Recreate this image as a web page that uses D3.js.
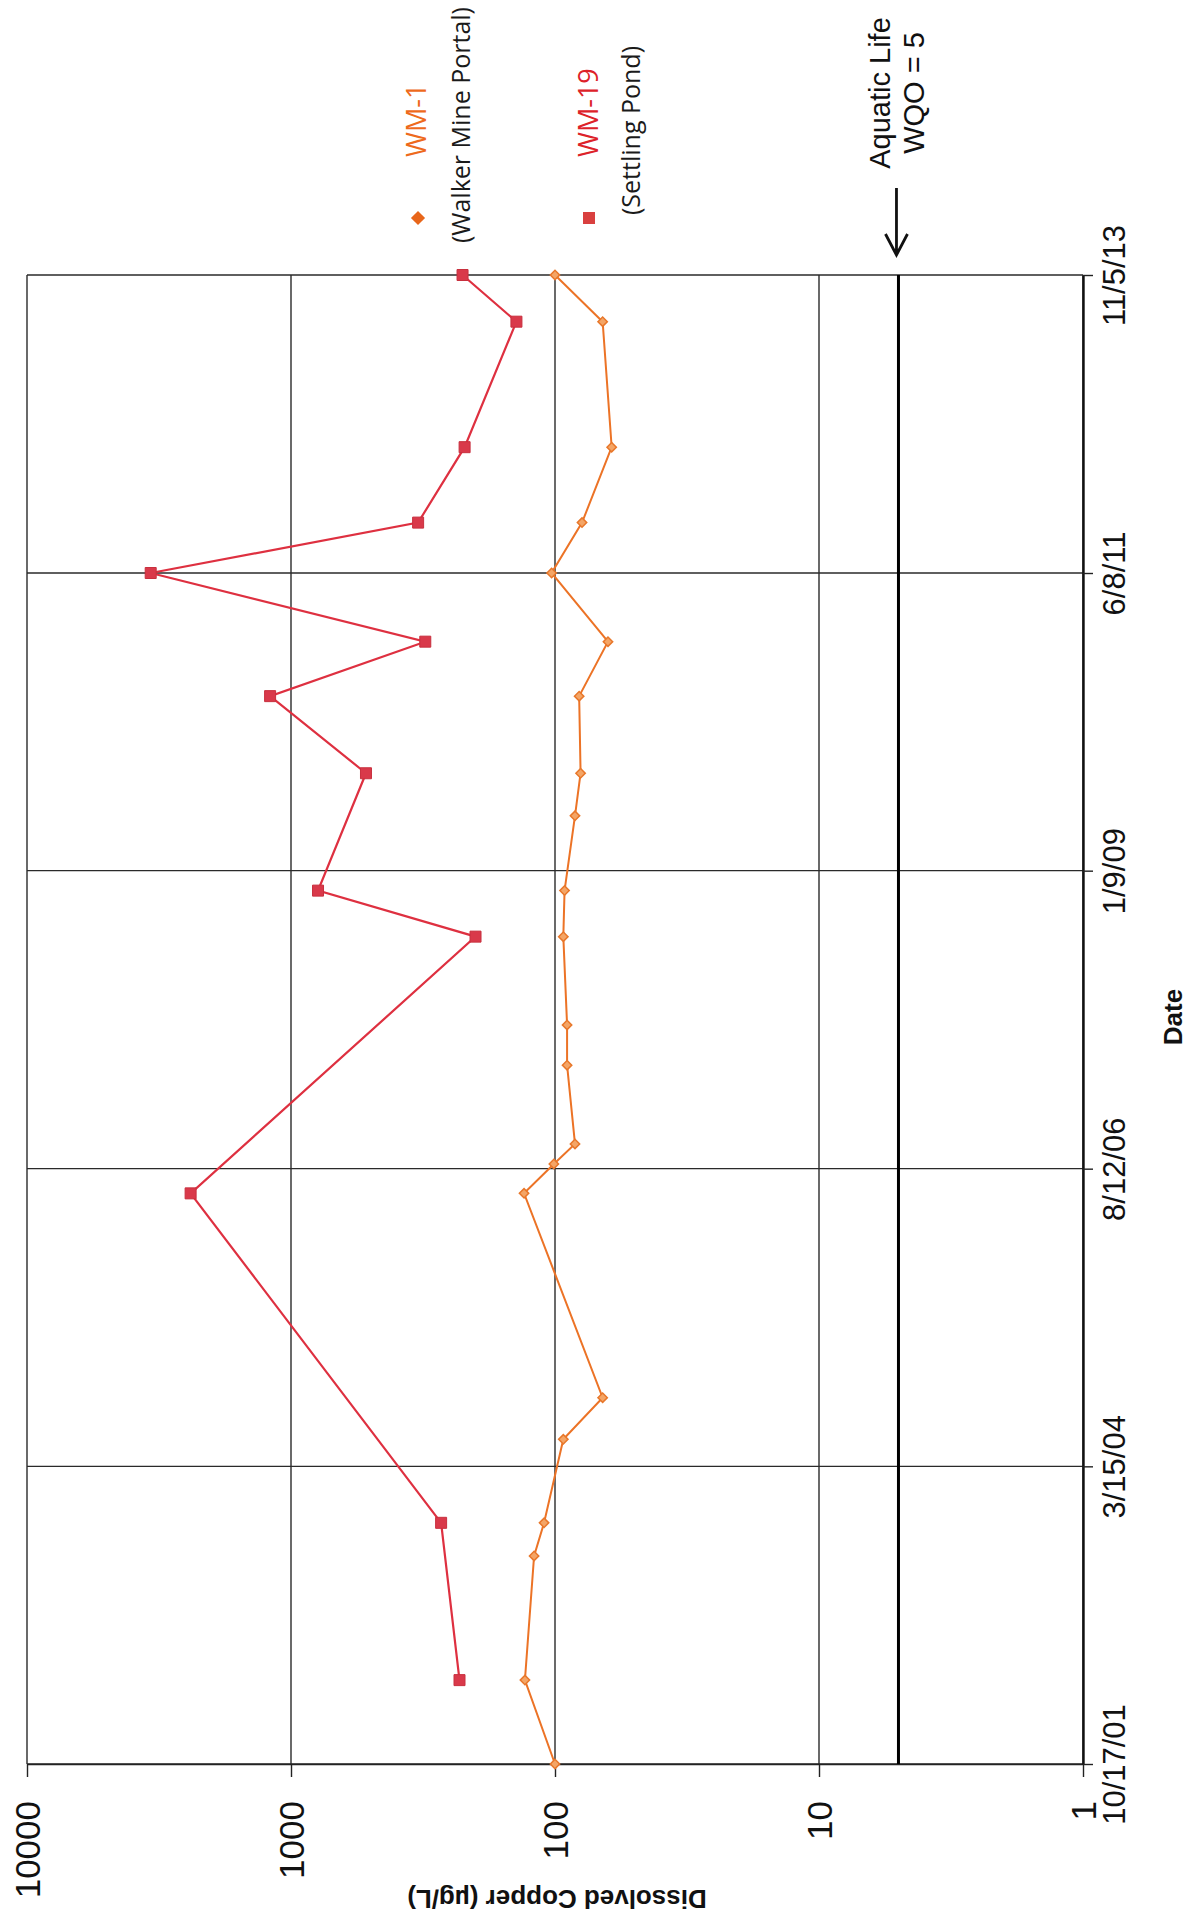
<!DOCTYPE html>
<html>
<head>
<meta charset="utf-8">
<script src="https://cdn.jsdelivr.net/npm/d3@7/dist/d3.min.js"></script>
<style>
  html, body { margin: 0; padding: 0; background: #fff; }
  svg { display: block; }
</style>
</head>
<body>
<svg id="chart" width="1201" height="1920"></svg>
<script>
// ---- data ----
const wm1Dates = ["2001-10-17","2002-06-22","2003-06-24","2003-09-30","2004-06-03","2004-10-04","2006-05-31","2006-08-26","2006-10-24","2007-06-14","2007-10-11","2008-06-28","2008-11-11","2009-06-20","2009-10-24","2010-06-09","2010-11-17","2011-06-08","2011-11-04","2012-06-14","2013-06-20","2013-11-05"];
const wm1Values = [100,130,120,110,93,66,131,101,84,90,90,93,92,84,80,81,63,103,79,61,66,100];

const wm19Dates = ["2002-06-22","2003-09-30","2006-05-31","2008-06-28","2008-11-11","2009-10-24","2010-06-09","2010-11-17","2011-06-08","2011-11-04","2012-06-14","2013-06-20","2013-11-05"];
const wm19Values = [230,270,2400,200,790,520,1200,310,3400,330,220,140,224];

const dateTicks = ["2001-10-17","2004-03-15","2006-08-12","2009-01-09","2011-06-08","2013-11-05"];
const valueTicks = [1,10,100,1000,10000];
const wqoValue = 5;

const seriesNames = ["WM-1","WM-19"];
const seriesSub = ["(Walker Mine Portal)","(Settling Pond)"];

(function () {
// ---- setup ----
const parse = d3.timeParse("%Y-%m-%d");
const svg = d3.select("#chart");
const SANS = "'Liberation Sans', Arial, sans-serif";
const LEG = "'Open Sans', 'Liberation Sans', sans-serif";

const pLeft = 27, pRight = 1083, pTop = 275, pBottom = 1764;

// value axis runs horizontally (rotated chart): 10000 at left, 1 at right
const x = d3.scaleLog().domain([1, 10000]).range([pRight, pLeft]);
// date axis runs vertically: oldest at bottom
const y = d3.scaleTime().domain([parse("2001-10-17"), parse("2013-11-05")]).range([pBottom, pTop]);

// ---- gridlines ----
const grid = svg.append("g");
grid.selectAll("line.v").data(valueTicks).join("line")
  .attr("class", "v")
  .attr("x1", d => x(d)).attr("x2", d => x(d))
  .attr("y1", pTop).attr("y2", pBottom)
  .attr("stroke", "#2a2a2a").attr("stroke-width", 1.4);
grid.selectAll("line.h").data(dateTicks).join("line")
  .attr("class", "h")
  .attr("x1", pLeft).attr("x2", pRight)
  .attr("y1", d => y(parse(d))).attr("y2", d => y(parse(d)))
  .attr("stroke", "#2a2a2a").attr("stroke-width", 1.4);

// ---- value axis (bottom) ----
const xAxis = svg.append("g")
  .attr("transform", `translate(0,${pBottom})`)
  .call(d3.axisBottom(x).tickValues(valueTicks).tickFormat(d3.format("d")).tickSizeInner(13).tickSizeOuter(0));
xAxis.select(".domain").attr("stroke", "#222").attr("stroke-width", 1.6);
xAxis.selectAll(".tick line").attr("stroke", "#222").attr("stroke-width", 1.4);
xAxis.selectAll(".tick text")
  .attr("x", -37).attr("y", 0).attr("dy", "0.35em")
  .attr("text-anchor", "end")
  .attr("transform", "rotate(-90)")
  .attr("font-family", SANS).attr("font-size", 35).attr("fill", "#111");

// ---- date axis (right) ----
const yAxis = svg.append("g")
  .attr("transform", `translate(${pRight},0)`)
  .call(d3.axisRight(y).tickValues(dateTicks.map(parse)).tickFormat(d3.timeFormat("%-m/%-d/%y")).tickSizeInner(10).tickSizeOuter(0));
yAxis.select(".domain").attr("stroke", "#111").attr("stroke-width", 2.4);
yAxis.selectAll(".tick line").attr("stroke", "#222").attr("stroke-width", 1.4);
yAxis.selectAll(".tick text")
  .attr("x", 0).attr("y", 31).attr("dy", "0.35em")
  .attr("text-anchor", "middle")
  .attr("transform", "rotate(-90)")
  .attr("font-family", SANS).attr("font-size", 31).attr("fill", "#111");

// ---- WQO line ----
svg.append("line")
  .attr("x1", x(wqoValue)).attr("x2", x(wqoValue))
  .attr("y1", pTop).attr("y2", pBottom)
  .attr("stroke", "#000").attr("stroke-width", 3);

// arrow
const ax = x(wqoValue) - 2;
svg.append("path")
  .attr("d", `M${ax},188 L${ax},254 M${ax-11},234 L${ax},255 L${ax+11},234`)
  .attr("fill", "none").attr("stroke", "#111").attr("stroke-width", 2.8);

svg.append("text")
  .attr("transform", `translate(880,93) rotate(-90)`)
  .attr("dy", "0.35em").attr("text-anchor", "middle")
  .attr("font-family", SANS).attr("font-size", 29).attr("fill", "#111")
  .text("Aquatic Life");
svg.append("text")
  .attr("transform", `translate(914,93) rotate(-90)`)
  .attr("dy", "0.35em").attr("text-anchor", "middle")
  .attr("font-family", SANS).attr("font-size", 29).attr("fill", "#111")
  .text("WQO = " + wqoValue);

// ---- series ----
const wm1 = wm1Dates.map((d, i) => ({ date: parse(d), value: wm1Values[i] }));
const wm19 = wm19Dates.map((d, i) => ({ date: parse(d), value: wm19Values[i] }));

const line = d3.line().x(d => x(d.value)).y(d => y(d.date));

svg.append("path").datum(wm19)
  .attr("d", line).attr("fill", "none")
  .attr("stroke", "#de3040").attr("stroke-width", 2.2);
svg.append("path").datum(wm1)
  .attr("d", line).attr("fill", "none")
  .attr("stroke", "#ec7326").attr("stroke-width", 2);

const sq = d3.symbol(d3.symbolSquare, 121);
svg.selectAll("path.sq").data(wm19).join("path")
  .attr("class", "sq")
  .attr("transform", d => `translate(${x(d.value)},${y(d.date)})`)
  .attr("d", sq).attr("fill", "#d9394a").attr("stroke", "#c8303e").attr("stroke-width", 1);

const dm = d3.symbol(d3.symbolSquare, 44);
svg.selectAll("path.dm").data(wm1).join("path")
  .attr("class", "dm")
  .attr("transform", d => `translate(${x(d.value)},${y(d.date)}) rotate(45)`)
  .attr("d", dm).attr("fill", "#f4a566").attr("stroke", "#e8772a").attr("stroke-width", 1.5);

// ---- legend ----
svg.append("path")
  .attr("transform", "translate(418,218) rotate(45)")
  .attr("d", d3.symbol(d3.symbolSquare, 100)).attr("fill", "#e8661a");
svg.append("path")
  .attr("transform", "translate(589,218)")
  .attr("d", d3.symbol(d3.symbolSquare, 144)).attr("fill", "#d9403f");

const legendText = [
  { t: seriesNames[0], x: 417, y: 157, size: 27, color: "#ee6a1c" },
  { t: seriesSub[0],   x: 461, y: 243, size: 25, color: "#1a1a1a" },
  { t: seriesNames[1], x: 589, y: 157, size: 27, color: "#dd2229" },
  { t: seriesSub[1],   x: 631, y: 215, size: 25, color: "#1a1a1a" }
];
svg.selectAll("text.leg").data(legendText).join("text")
  .attr("class", "leg")
  .attr("transform", d => `translate(${d.x},${d.y}) rotate(-90)`)
  .attr("dy", "0.35em").attr("text-anchor", "start")
  .attr("font-family", LEG).attr("font-size", d => d.size).attr("fill", d => d.color)
  .text(d => d.t);

// ---- axis titles ----
svg.append("text")
  .attr("transform", "translate(557,1899) rotate(180)")
  .attr("dy", "0.35em").attr("text-anchor", "middle")
  .attr("font-family", SANS).attr("font-weight", "bold").attr("font-size", 26).attr("fill", "#111")
  .text("Dissolved Copper (µg/L)");
svg.append("text")
  .attr("transform", "translate(1173,1017) rotate(-90)")
  .attr("dy", "0.35em").attr("text-anchor", "middle")
  .attr("font-family", SANS).attr("font-weight", "bold").attr("font-size", 26).attr("fill", "#111")
  .text("Date");
})();
</script>
</body>
</html>
